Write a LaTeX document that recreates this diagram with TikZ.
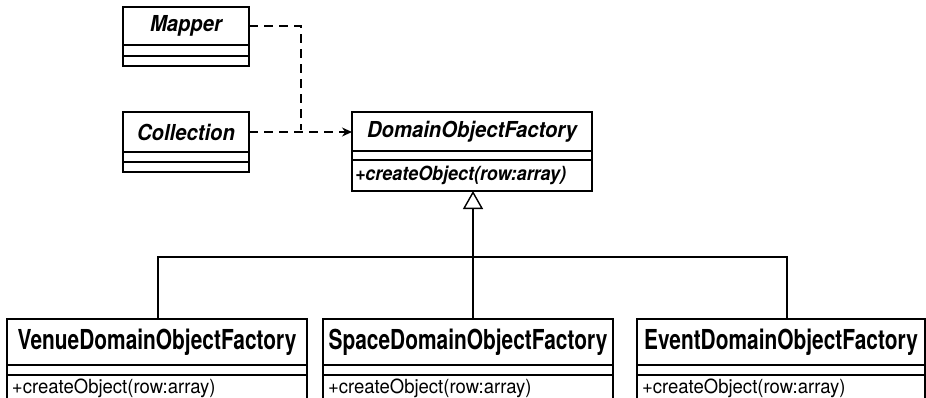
\documentclass[tikz,border=0pt]{standalone}
\usepackage{fontspec}
\setmainfont{TeX Gyre Heros}
\newfontfamily\topf{TeX Gyre Heros}[FakeStretch=0.92]
\newfontfamily\botf{TeX Gyre Heros}[FakeStretch=0.76]
\newfontfamily\methf{TeX Gyre Heros}[FakeStretch=0.95]
\usetikzlibrary{arrows.meta,calc}
\begin{document}
\begin{tikzpicture}[x=1pt,y=-1pt,
  comp/.style={draw, line width=1.4pt, anchor=north west, inner sep=0pt, outer sep=0pt},
  topname/.style={comp, font=\topf\fontsize{22}{24}\selectfont\bfseries\itshape},
  topmeth/.style={comp, align=left, text width=#1, inner xsep=3pt, font=\topf\fontsize{19.5}{22}\selectfont\bfseries\itshape},
  botname/.style={comp, font=\botf\fontsize{27.5}{30}\selectfont\bfseries},
  botmeth/.style={comp, align=left, text width=#1, inner xsep=5pt, inner ysep=4pt, font=\methf\fontsize{19.5}{22}\selectfont},
  dep/.style={line width=1.4pt, dash pattern=on 9pt off 6pt},
  conn/.style={line width=1.4pt}
]
\useasboundingbox (0,0) rectangle (926,397);
\clip (0,0) rectangle (926,397);

% Mapper
\node[topname, minimum width=126pt, minimum height=38pt] (mapper) at (123,7) {Mapper};
\node[comp, minimum width=126pt, minimum height=11pt] (mapperA) at (mapper.south west) {};
\node[comp, minimum width=126pt, minimum height=10pt] (mapperB) at (mapperA.south west) {};

% Collection
\node[topname, minimum width=126pt, minimum height=40pt] (coll) at (123,112) {Collection};
\node[comp, minimum width=126pt, minimum height=10pt] (collA) at (coll.south west) {};
\node[comp, minimum width=126pt, minimum height=10pt] (collB) at (collA.south west) {};

% DomainObjectFactory
\node[topname, minimum width=240pt, minimum height=39pt] (dof) at (352,112) {DomainObjectFactory};
\node[comp, minimum width=240pt, minimum height=9pt] (dofA) at (dof.south west) {};
\node[topmeth=234pt, minimum height=31pt] (dofB) at (dofA.south west) {+createObject(row:array)};

% Venue
\node[botname, minimum width=300pt, minimum height=46pt] (venue) at (7,319) {VenueDomainObjectFactory};
\node[comp, minimum width=300pt, minimum height=10pt] (venueA) at (venue.south west) {};
\node[botmeth=290pt] (venueB) at (venueA.south west) {+createObject(row:array)};

% Space
\node[botname, minimum width=290pt, minimum height=46pt] (space) at (323,319) {SpaceDomainObjectFactory};
\node[comp, minimum width=290pt, minimum height=10pt] (spaceA) at (space.south west) {};
\node[botmeth=280pt] (spaceB) at (spaceA.south west) {+createObject(row:array)};

% Event
\node[botname, minimum width=288pt, minimum height=46pt] (event) at (637,319) {EventDomainObjectFactory};
\node[comp, minimum width=288pt, minimum height=10pt] (eventA) at (event.south west) {};
\node[botmeth=278pt] (eventB) at (eventA.south west) {+createObject(row:array)};

% dependencies
\coordinate (mjoin) at (301,130);
\draw[dep] (mapper.east) -| (mjoin);
\draw[dep, -{Stealth[length=10pt,width=9pt]}] (coll.east) -- (coll.east -| dof.west);

% generalization
\coordinate (junction) at (473,257);
\draw[conn] ($(venue.north)+(1,0)$) |- (junction) -| ($(event.north)+(6,0)$);
\draw[conn] (junction) -- (junction |- space.north);
\draw[conn, -{Triangle[open, length=18pt, width=20pt, line width=1.4pt]}] (junction) -- (junction |- dofB.south);
\end{tikzpicture}
\end{document}
